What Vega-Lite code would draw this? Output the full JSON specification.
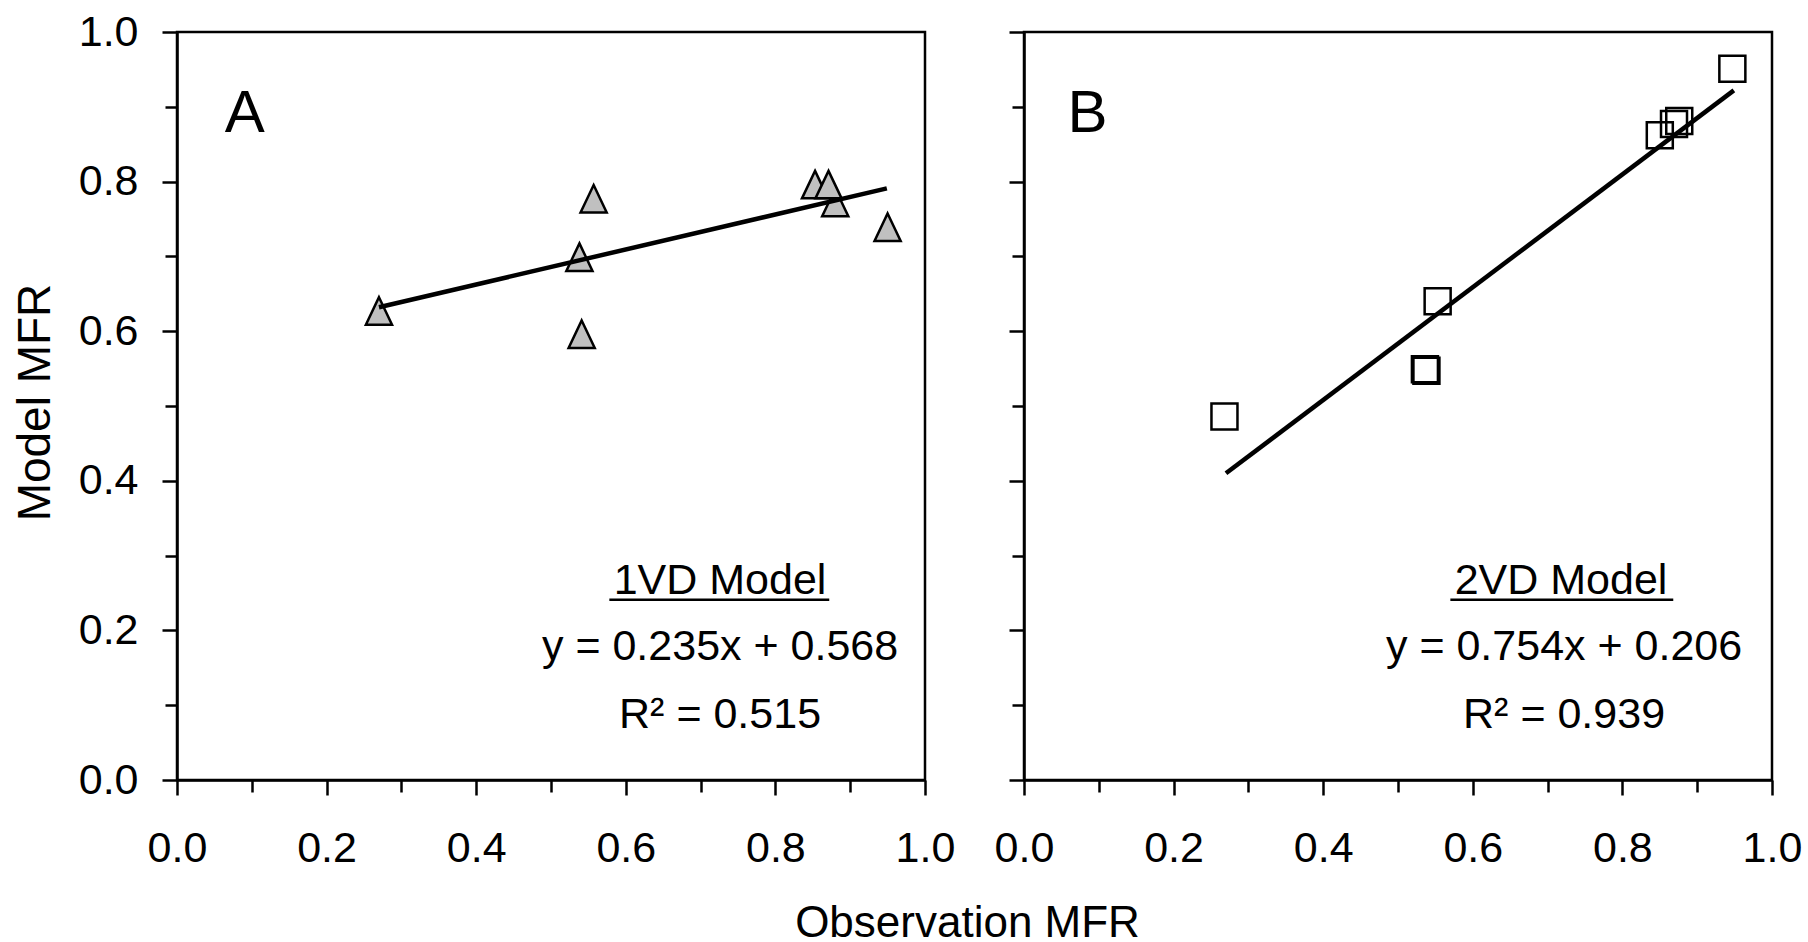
{
  "$schema": "https://vega.github.io/schema/vega-lite/v6.json",
  "background": "white",
  "padding": {"left": 10, "top": 9, "right": 5, "bottom": 5},
  "bounds": "flush",
  "spacing": 99,
  "config": {
    "font": "Liberation Sans",
    "view": {"stroke": "black", "strokeWidth": 2.5},
    "axis": {
      "grid": false,
      "domainColor": "black",
      "domainWidth": 2.5,
      "tickColor": "black",
      "tickWidth": 2.5,
      "labelFont": "Liberation Sans",
      "labelFontSize": 43,
      "labelColor": "black",
      "labelFlush": false,
      "labelOverlap": false,
      "labelBound": false,
      "titleFont": "Liberation Sans",
      "titleFontSize": 44,
      "titleFontWeight": "normal",
      "titleColor": "black"
    }
  },
  "datasets": {
    "obs": [
      {"panel": "A", "obs": 0.270, "model": 0.627},
      {"panel": "A", "obs": 0.541, "model": 0.596},
      {"panel": "A", "obs": 0.538, "model": 0.699},
      {"panel": "A", "obs": 0.557, "model": 0.777},
      {"panel": "A", "obs": 0.880, "model": 0.772},
      {"panel": "A", "obs": 0.853, "model": 0.796},
      {"panel": "A", "obs": 0.871, "model": 0.796},
      {"panel": "A", "obs": 0.950, "model": 0.739},
      {"panel": "B", "obs": 0.268, "model": 0.486},
      {"panel": "B", "obs": 0.536, "model": 0.549},
      {"panel": "B", "obs": 0.538, "model": 0.547},
      {"panel": "B", "obs": 0.553, "model": 0.640},
      {"panel": "B", "obs": 0.850, "model": 0.862},
      {"panel": "B", "obs": 0.869, "model": 0.877},
      {"panel": "B", "obs": 0.876, "model": 0.881},
      {"panel": "B", "obs": 0.947, "model": 0.951}
    ],
    "fit": [
      {"panel": "A", "obs": 0.270, "model": 0.632},
      {"panel": "A", "obs": 0.949, "model": 0.791},
      {"panel": "B", "obs": 0.270, "model": 0.410},
      {"panel": "B", "obs": 0.949, "model": 0.922}
    ],
    "notes": [
      {"panel": "A", "x": 0.726, "y": 0.249, "text": "1VD Model"},
      {"panel": "A", "x": 0.726, "y": 0.160, "text": "y = 0.235x + 0.568"},
      {"panel": "A", "x": 0.726, "y": 0.070, "text": "R² = 0.515"},
      {"panel": "B", "x": 0.718, "y": 0.249, "text": "2VD Model"},
      {"panel": "B", "x": 0.722, "y": 0.160, "text": "y = 0.754x + 0.206"},
      {"panel": "B", "x": 0.722, "y": 0.070, "text": "R² = 0.939"}
    ],
    "underline": [
      {"panel": "A", "x": 0.578, "x2": 0.872, "y": 0.241},
      {"panel": "B", "x": 0.570, "x2": 0.868, "y": 0.241}
    ],
    "letters": [
      {"panel": "A", "x": 0.064, "y": 0.866, "text": "A"},
      {"panel": "B", "x": 0.058, "y": 0.866, "text": "B"}
    ]
  },
  "hconcat": [
    {
      "width": 748,
      "height": 748,
      "layer": [
        {
          "data": {"name": "obs"},
          "transform": [{"filter": "datum.panel === 'A'"}],
          "mark": {"type": "point", "shape": "M0,-1L0.95,1L-0.95,1Z", "filled": true, "fill": "#c0c0c0", "stroke": "black", "strokeWidth": 2.5, "size": 756, "opacity": 1},
          "encoding": {
            "x": {
              "field": "obs", "type": "quantitative",
              "scale": {"domain": [0, 1], "nice": false, "zero": false},
              "axis": {
                "values": [0, 0.1, 0.2, 0.3, 0.4, 0.5, 0.6, 0.7, 0.8, 0.9, 1.0],
                "labelExpr": "round(datum.value*10)%2==0 ? format(datum.value,'.1f') : ''",
                "tickSize": {"condition": {"test": "round(datum.value*10)%2==0", "value": 15}, "value": 12},
                "labelPadding": 32,
                "title": "Observation MFR",
                "titleX": 790,
                "titleY": 156,
                "titleAlign": "center",
                "titleBaseline": "alphabetic"
              }
            },
            "y": {
              "field": "model", "type": "quantitative",
              "scale": {"domain": [0, 1], "nice": false, "zero": false},
              "axis": {
                "values": [0, 0.1, 0.2, 0.3, 0.4, 0.5, 0.6, 0.7, 0.8, 0.9, 1.0],
                "labelExpr": "round(datum.value*10)%2==0 ? format(datum.value,'.1f') : ''",
                "tickSize": {"condition": {"test": "round(datum.value*10)%2==0", "value": 15}, "value": 12},
                "labelPadding": 24,
                "title": "Model MFR",
                "titleFontSize": 46,
                "titleX": -128,
                "titleY": 370,
                "titleAngle": -90,
                "titleAlign": "center",
                "titleBaseline": "alphabetic"
              }
            }
          }
        },
        {
          "data": {"name": "fit"},
          "transform": [{"filter": "datum.panel === 'A'"}],
          "mark": {"type": "line", "color": "black", "strokeWidth": 4.5},
          "encoding": {
            "x": {"field": "obs", "type": "quantitative"},
            "y": {"field": "model", "type": "quantitative"}
          }
        },
        {
          "data": {"name": "notes"},
          "transform": [{"filter": "datum.panel === 'A'"}],
          "mark": {"type": "text", "fontSize": 43, "align": "center", "baseline": "alphabetic", "color": "black"},
          "encoding": {
            "x": {"field": "x", "type": "quantitative"},
            "y": {"field": "y", "type": "quantitative"},
            "text": {"field": "text"}
          }
        },
        {
          "data": {"name": "underline"},
          "transform": [{"filter": "datum.panel === 'A'"}],
          "mark": {"type": "rule", "color": "black", "strokeWidth": 2.5},
          "encoding": {
            "x": {"field": "x", "type": "quantitative"},
            "x2": {"field": "x2"},
            "y": {"field": "y", "type": "quantitative"}
          }
        },
        {
          "data": {"name": "letters"},
          "transform": [{"filter": "datum.panel === 'A'"}],
          "mark": {"type": "text", "fontSize": 60, "align": "left", "baseline": "alphabetic", "color": "black"},
          "encoding": {
            "x": {"field": "x", "type": "quantitative"},
            "y": {"field": "y", "type": "quantitative"},
            "text": {"field": "text"}
          }
        }
      ]
    },
    {
      "width": 748,
      "height": 748,
      "layer": [
        {
          "data": {"name": "obs"},
          "transform": [{"filter": "datum.panel === 'B'"}],
          "mark": {"type": "point", "shape": "square", "filled": false, "stroke": "black", "strokeWidth": 2.5, "size": 676, "opacity": 1},
          "encoding": {
            "x": {
              "field": "obs", "type": "quantitative",
              "scale": {"domain": [0, 1], "nice": false, "zero": false},
              "axis": {
                "values": [0, 0.1, 0.2, 0.3, 0.4, 0.5, 0.6, 0.7, 0.8, 0.9, 1.0],
                "labelExpr": "round(datum.value*10)%2==0 ? format(datum.value,'.1f') : ''",
                "tickSize": {"condition": {"test": "round(datum.value*10)%2==0", "value": 15}, "value": 12},
                "labelPadding": 32,
                "title": null
              }
            },
            "y": {
              "field": "model", "type": "quantitative",
              "scale": {"domain": [0, 1], "nice": false, "zero": false},
              "axis": {
                "values": [0, 0.1, 0.2, 0.3, 0.4, 0.5, 0.6, 0.7, 0.8, 0.9, 1.0],
                "labels": false,
                "tickSize": {"condition": {"test": "round(datum.value*10)%2==0", "value": 15}, "value": 12},
                "title": null
              }
            }
          }
        },
        {
          "data": {"name": "fit"},
          "transform": [{"filter": "datum.panel === 'B'"}],
          "mark": {"type": "line", "color": "black", "strokeWidth": 4.5},
          "encoding": {
            "x": {"field": "obs", "type": "quantitative"},
            "y": {"field": "model", "type": "quantitative"}
          }
        },
        {
          "data": {"name": "notes"},
          "transform": [{"filter": "datum.panel === 'B'"}],
          "mark": {"type": "text", "fontSize": 43, "align": "center", "baseline": "alphabetic", "color": "black"},
          "encoding": {
            "x": {"field": "x", "type": "quantitative"},
            "y": {"field": "y", "type": "quantitative"},
            "text": {"field": "text"}
          }
        },
        {
          "data": {"name": "underline"},
          "transform": [{"filter": "datum.panel === 'B'"}],
          "mark": {"type": "rule", "color": "black", "strokeWidth": 2.5},
          "encoding": {
            "x": {"field": "x", "type": "quantitative"},
            "x2": {"field": "x2"},
            "y": {"field": "y", "type": "quantitative"}
          }
        },
        {
          "data": {"name": "letters"},
          "transform": [{"filter": "datum.panel === 'B'"}],
          "mark": {"type": "text", "fontSize": 60, "align": "left", "baseline": "alphabetic", "color": "black"},
          "encoding": {
            "x": {"field": "x", "type": "quantitative"},
            "y": {"field": "y", "type": "quantitative"},
            "text": {"field": "text"}
          }
        }
      ]
    }
  ]
}
